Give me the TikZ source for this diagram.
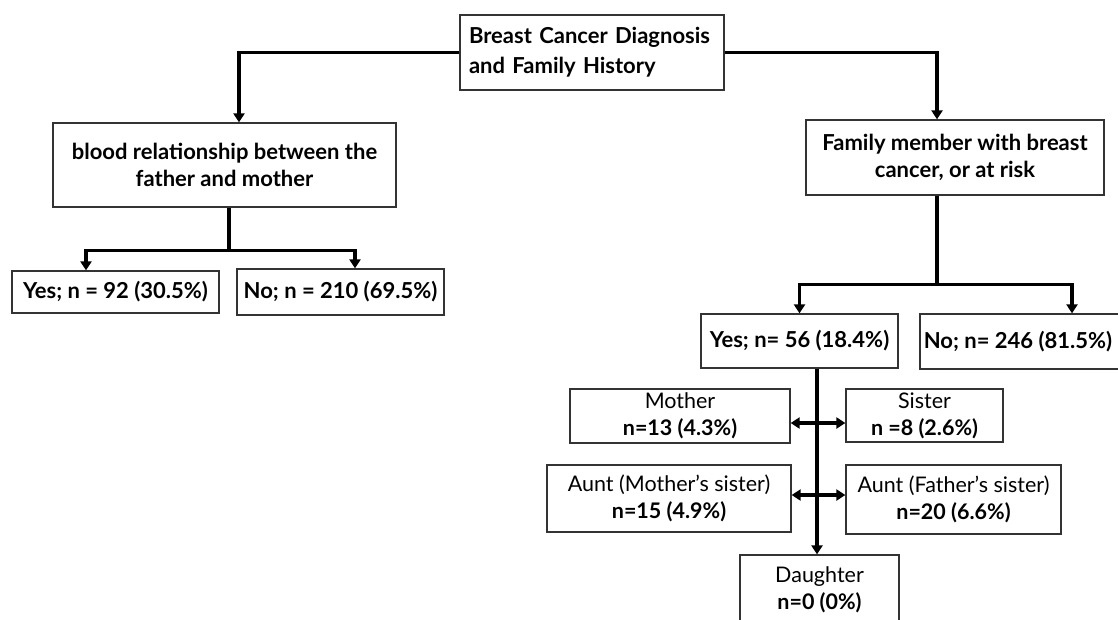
\documentclass[tikz,border=0pt]{standalone}
\usepackage{fontspec}
\setmainfont{Lato}
\usetikzlibrary{arrows.meta}
\begin{document}
\begin{tikzpicture}[x=1pt,y=-1pt,
  box/.style={draw=black!80, line width=1.3pt, inner sep=0pt, align=center,
    font=\fontsize{22}{27}\selectfont\bfseries},
  rbox/.style={draw=black!80, line width=1.3pt, inner sep=0pt, align=center,
    font=\fontsize{21.5}{27}\selectfont},
  conn/.style={line width=3.5pt},
  arr/.style={line width=3.5pt, -{Triangle[length=9pt,width=11pt]}},
  darr/.style={line width=3.5pt, {Triangle[length=9pt,width=11pt]}-{Triangle[length=9pt,width=11pt]}}
]
\path[use as bounding box] (0,0) rectangle (1118,619);
\clip (0,0) rectangle (1118,619);

\node[box, minimum width=264, minimum height=75, text width=246, align=left,
  font=\fontsize{22}{30}\selectfont\bfseries] (top) at (592,52.5)
  {Breast Cancer Diagnosis\\and Family History};
\node[box, minimum width=343, minimum height=84] (blood) at (224.5,165)
  {blood relationship between the\\father and mother};
\node[box, minimum width=207, minimum height=42] (yesL) at (115.5,292)
  {Yes; n = 92 (30.5\%)};
\node[box, minimum width=207, minimum height=46] (noL) at (340.5,292)
  {No; n = 210 (69.5\%)};
\node[box, minimum width=298, minimum height=75] (fam) at (955,157.5)
  {Family member with breast\\cancer, or at risk};
\node[box, minimum width=197, minimum height=54] (yesR) at (799.5,341)
  {Yes; n= 56 (18.4\%)};
\node[box, minimum width=210, minimum height=55] (noR) at (1025,341.5)
  {No; n= 246 (81.5\%)\hspace*{14pt}};
\node[rbox, minimum width=220, minimum height=54] (mother) at (680,416)
  {Mother\\\textbf{n=13 (4.3\%)}};
\node[rbox, minimum width=157, minimum height=53] (sister) at (924.5,415.5)
  {Sister\\\textbf{n =8 (2.6\%)}};
\node[rbox, minimum width=244, minimum height=67] (auntM) at (669,498.5)
  {Aunt (Mother’s sister)\\\textbf{n=15 (4.9\%)}};
\node[rbox, minimum width=215, minimum height=69] (auntF) at (953.5,499.5)
  {Aunt (Father’s sister)\\\textbf{n=20 (6.6\%)}};
\node[rbox, minimum width=159, minimum height=70] (daughter) at (819.5,590)
  {Daughter\\\textbf{n=0 (0\%)}};

\draw[arr] (top.west) -| ([xshift=14.5pt]blood.north);
\draw[arr] (top.east) -| ([xshift=-18pt]fam.north);

\draw[conn] ([xshift=4.5pt]blood.south) -- ++(0,43) coordinate (bj);
\draw[arr] (bj) -| ([xshift=-29.5pt]yesL.north);
\draw[arr] (bj) -| ([xshift=14.5pt]noL.north);

\draw[conn] ([xshift=-18pt]fam.south) -- ++(0,89) coordinate (fj);
\draw[arr] (fj) -| (yesR.north);
\draw[arr] (fj) -| ([xshift=47pt]noR.north);

\draw[arr] ([xshift=17.5pt]yesR.south) -- ([xshift=17.5pt]yesR.south |- daughter.north);
\draw[darr] ([yshift=-7pt]mother.east) -- ([yshift=-7pt]mother.east -| sister.west);
\draw[darr] ([yshift=3.5pt]auntM.east) -- ([yshift=3.5pt]auntM.east -| auntF.west);
\end{tikzpicture}
\end{document}
